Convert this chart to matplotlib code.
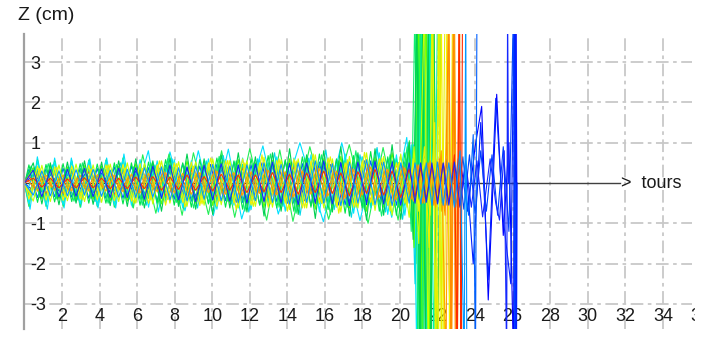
import matplotlib
matplotlib.use("Agg")
import matplotlib.pyplot as plt
from matplotlib.transforms import Bbox

plt.rcParams['font.family'] = ['Liberation Sans', 'DejaVu Sans']

# Turn numbers of the sampled crests (four interleaved phases)
crest_turns_a = [0, 0.24, 0.70, 1.15, 1.61, 2.06, 2.52, 2.97, 3.43, 3.88, 4.34, 4.79,
                 5.25, 5.70, 6.16, 6.61, 7.07, 7.52, 7.98, 8.43, 8.89, 9.34, 9.80,
                 10.25, 10.71, 11.16, 11.62, 12.07, 12.53, 12.98, 13.44, 13.89, 14.35,
                 14.80, 15.26, 15.71, 16.17, 16.62, 17.08, 17.53, 17.99, 18.44, 18.90,
                 19.35, 19.81, 20.26, 20.72]
crest_turns_b = [0, 0.47, 0.93, 1.38, 1.84, 2.29, 2.75, 3.20, 3.66, 4.11, 4.57, 5.02,
                 5.48, 5.93, 6.39, 6.84, 7.30, 7.75, 8.21, 8.66, 9.12, 9.57, 10.03,
                 10.48, 10.94, 11.39, 11.85, 12.30, 12.76, 13.21, 13.67, 14.12, 14.58,
                 15.03, 15.49, 15.94, 16.40, 16.85, 17.31, 17.76, 18.22, 18.67, 19.13,
                 19.58, 20.04, 20.49]
crest_turns_c = [0, 0.36, 0.82, 1.27, 1.73, 2.18, 2.64, 3.09, 3.55, 4.00, 4.46, 4.91,
                 5.37, 5.82, 6.28, 6.73, 7.19, 7.64, 8.10, 8.55, 9.01, 9.46, 9.92,
                 10.37, 10.83, 11.28, 11.74, 12.19, 12.65, 13.10, 13.56, 14.01, 14.47,
                 14.92, 15.38, 15.83, 16.29, 16.74, 17.20, 17.65, 18.11, 18.56, 19.02,
                 19.47, 19.93, 20.38]
crest_turns_d = [0, 0.12, 0.58, 1.03, 1.49, 1.94, 2.40, 2.85, 3.31, 3.76, 4.22, 4.67,
                 5.13, 5.58, 6.04, 6.49, 6.95, 7.40, 7.86, 8.31, 8.77, 9.22, 9.68,
                 10.13, 10.59, 11.04, 11.50, 11.95, 12.41, 12.86, 13.32, 13.77, 14.23,
                 14.68, 15.14, 15.59, 16.05, 16.50, 16.96, 17.41, 17.87, 18.32, 18.78,
                 19.23, 19.69, 20.14, 20.60]

# Large-amplitude particles (own crest positions)
outer_a_turns = [0, 0.30, 0.69, 1.22, 1.61, 2.11, 2.50, 3.00, 3.48, 3.92, 4.38, 4.86, 5.30,
                 5.75, 6.60, 7.13, 7.75, 8.55, 9.26, 10.06, 10.86, 11.57, 12.70, 13.52,
                 14.67, 15.92, 16.90, 17.87, 18.76, 19.56, 20.36,
                 20.75, 20.95, 21.08, 21.22, 21.36]
outer_a_z = [0, -0.65, 0.65, -0.65, 0.62, -0.62, 0.62, -0.60, 0.60, -0.62, 0.62, -0.62, 0.72,
             -0.60, 0.80, -0.72, 0.77, -0.69, 0.80, -0.81, 0.84, -0.89, 0.92, -0.77,
             1.00, -0.96, 1.00, -0.93, 0.84, -0.85, 1.13,
             -1.0, 4.5, -4.5, 4.5, -4.5]
outer_b_turns = [0, 0.24, 0.70, 1.15, 1.61, 2.06, 2.52, 2.97, 3.43, 3.88, 4.34, 4.79, 5.25,
                 5.80, 6.30, 7.00, 7.70, 8.40, 9.00, 9.80, 10.50, 11.20, 12.00, 12.90,
                 13.60, 14.30, 15.20, 16.20, 17.30, 18.30, 19.10, 19.90, 20.50,
                 20.85, 21.05, 21.20, 21.35, 21.48, 21.60]
outer_b_z = [0, -0.58, 0.57, -0.58, 0.55, -0.58, 0.55, -0.60, 0.57, -0.58, 0.57, -0.60, 0.62,
             -0.62, 0.70, -0.75, 0.72, -0.80, 0.75, -0.78, 0.80, -0.85, 0.85, -0.92,
             0.82, -0.95, 0.90, -0.90, 0.95, -1.00, 0.88, -0.92, 1.05,
             -2.0, 4.5, -4.5, 4.5, -4.5, 4.5]

# Crest values of the core particles, followed by (turn, z) points after turn 20.5
core_c = [0.05, -0.52, 0.55, -0.55, 0.52, -0.54, 0.55, -0.52, 0.55, -0.56, 0.55, -0.55, 0.60,
          -0.55, 0.58, -0.60, 0.55, -0.50, 0.58, -0.62, 0.55, -0.50, 0.60, -0.65, 0.58, -0.55,
          0.62, -0.66, 0.60, -0.55, 0.65,
          -0.70, 0.62, -0.60, 0.70, -0.72, 0.62, -0.60, 0.72, -0.75, 0.65, -0.62, 0.75, -0.78,
          0.70, -0.80, 0.95]
tail_c = [(20.90, -4.5), (21.05, 4.5), (21.18, -4.5), (21.30, 4.5)]

core_d = [-0.05, 0.45, -0.48, 0.46, -0.47, 0.48, -0.46, 0.48, -0.50, 0.47, -0.50, 0.50, -0.52,
          0.50, -0.55, 0.52, -0.50, 0.58, -0.55, 0.50, -0.60, 0.58, -0.52, 0.62, -0.60, 0.55,
          -0.65, 0.60, -0.55, 0.68, -0.62,
          0.58, -0.70, 0.65, -0.60, 0.72, -0.66, 0.60, -0.75, 0.68, -0.62, 0.78, -0.70, 0.65,
          -0.80, 0.75, -0.90]
tail_d = [(20.95, 4.5), (21.10, -4.5), (21.25, 4.5), (21.40, -4.5), (21.55, 4.5), (21.70, -4.5)]

core_e = [0.0, 0.38, -0.40, 0.42, -0.40, 0.40, -0.42, 0.43, -0.40, 0.42, -0.44, 0.42, -0.45,
          0.48, -0.45, 0.50, -0.52, 0.46, -0.50, 0.55, -0.50, 0.48, -0.56, 0.52, -0.50, 0.58,
          -0.55, 0.50, -0.60, 0.56,
          -0.52, 0.60, -0.58, 0.55, -0.65, 0.60, -0.55, 0.66, -0.62, 0.58, -0.70, 0.64, -0.60,
          0.75, -0.70, 0.85]
tail_e = [(20.75, -1.6), (21.0, 4.5), (21.2, -4.5), (21.4, 4.5), (21.6, -4.5), (21.8, 4.5),
          (21.95, -4.5)]

core_f = [0.0, -0.32, 0.35, -0.34, 0.33, -0.35, 0.34, -0.33, 0.36, -0.35, 0.34, -0.36, 0.38,
          -0.36, 0.40, -0.38, 0.36, -0.42, 0.40, -0.38, 0.44, -0.40, 0.38, -0.45, 0.42, -0.40,
          0.46, -0.44, 0.40, -0.48, 0.45,
          -0.42, 0.50, -0.46, 0.44, -0.52, 0.48, -0.45, 0.55, -0.50, 0.46, -0.56, 0.52, -0.50,
          0.60, -0.55, 0.62]
tail_f = [(20.95, -1.2), (21.2, 4.5), (21.4, -4.5), (21.6, 4.5), (21.8, -4.5), (22.0, 4.5)]

core_p = [0.0, 0.50, -0.52, 0.50, -0.54, 0.52, -0.50, 0.55, -0.53, 0.52, -0.56, 0.55, -0.58,
          0.60, -0.62, 0.55, -0.70, 0.62, -0.58, 0.72, -0.65, 0.60, -0.78, 0.70, -0.62, 0.75,
          -0.72, 0.65, -0.82, 0.75,
          -0.70, 0.85, -0.78, 0.70, -0.88, 0.80, -0.72, 0.90, -0.82, 0.75, -0.92, 0.85, -0.80,
          0.95, -0.90, 1.00]
tail_p = [(20.7, -1.4), (20.9, 4.5), (21.05, -4.5), (21.2, 4.5), (21.35, -4.5), (21.5, 4.5),
          (21.65, -4.5), (21.8, 4.5), (22.0, -4.5), (22.2, 4.5)]

core_s = [0.0, 0.42, -0.35, 0.48, -0.40, 0.30, -0.45, 0.50, -0.38, 0.33, -0.50, 0.46, -0.36,
          0.40, -0.55, 0.50, -0.35, 0.60, -0.48, 0.42, -0.62, 0.38, -0.50, 0.66, -0.45, 0.55,
          -0.70, 0.48, -0.40, 0.72, -0.60, 0.45, -0.75, 0.62, -0.50, 0.70, -0.78, 0.55, -0.60,
          0.80, -0.65, 0.50, -0.82, 0.70, -0.60, 0.90]
tail_s = [(20.6, -1.2), (20.8, 4.5), (20.95, -4.5), (21.1, 4.5), (21.25, -4.5)]

core_t = [0.0, -0.25, 0.40, -0.30, 0.45, -0.28, 0.38, -0.42, 0.30, -0.46, 0.36, -0.30, 0.50,
          -0.40, 0.32, -0.55, 0.45, -0.38, 0.60, -0.50, 0.35, -0.62, 0.55, -0.40, 0.68, -0.52,
          0.45, -0.72, 0.60, -0.42, 0.75, -0.58, 0.50, -0.80, 0.62, -0.45, 0.82, -0.66, 0.55,
          -0.85, 0.70, -0.50, 0.88, -0.72, 0.60, -0.90, 0.95]
tail_t = [(20.8, -2.5), (21.0, 4.5), (21.12, -4.5), (21.26, 4.5), (21.45, -4.5), (21.6, 4.5)]

core_h = [0.0, -0.45, 0.44, -0.46, 0.45, -0.44, 0.47, -0.46, 0.45, -0.48, 0.47, -0.46, 0.50,
          -0.50, 0.48, -0.52, 0.55, -0.50, 0.53, -0.58, 0.52, -0.55, 0.60, -0.54, 0.56, -0.62,
          0.55, -0.58, 0.64, -0.60,
          0.58, -0.66, 0.60, -0.62, 0.70, -0.62, 0.60, -0.72, 0.66, -0.62, 0.75, -0.68, 0.66,
          -0.80, 0.72, -0.85]
tail_h = [(20.75, 0.9), (21.0, -1.5), (21.3, 4.5), (21.5, -4.5), (21.7, 4.5), (21.9, -4.5),
          (22.1, 4.5), (22.25, -4.5)]

core_u = [0.0, -0.30, 0.36, -0.25, 0.40, -0.35, 0.28, -0.42, 0.35, -0.30, 0.45, -0.32, 0.38,
          -0.50, 0.36, -0.42, 0.55, -0.40, 0.48, -0.60, 0.42, -0.52, 0.62, -0.45, 0.56, -0.66,
          0.50, -0.58, 0.70, -0.52, 0.60, -0.70, 0.55, -0.62, 0.72, -0.50, 0.65, -0.75, 0.58,
          -0.60, 0.76, -0.55, 0.62, -0.70, 0.50, -0.60]
tail_u = [(20.7, 0.6), (21.0, -0.7), (21.3, 0.9), (21.55, -1.6), (21.75, 4.5), (21.9, -4.5),
          (22.05, 4.5), (22.2, -4.5), (22.4, 4.5)]

core_g = [0.05, -0.40, 0.42, -0.42, 0.40, -0.43, 0.42, -0.40, 0.44, -0.42, 0.45, -0.44, 0.46,
          -0.45, 0.48, -0.50, 0.45, -0.55, 0.50, -0.48, 0.52, -0.56, 0.50, -0.58, 0.55, -0.50,
          0.60, -0.55, 0.50, -0.60, 0.56,
          -0.50, 0.60, -0.62, 0.55, -0.50, 0.62, -0.58, 0.50, -0.60, 0.55, -0.48, 0.60, -0.55,
          0.50, -0.50, 0.45]
tail_g = [(21.0, -0.55), (21.3, 0.6), (21.6, -0.8), (21.85, 1.5), (22.05, -4.5), (22.2, 4.5),
          (22.35, -4.5), (22.5, 4.5), (22.65, -4.5), (22.8, 4.5)]

core_i = [0.0, 0.18, -0.20, 0.20, -0.18, 0.20, -0.20, 0.19, -0.20, 0.21, -0.20, 0.20, -0.22,
          0.22, -0.25, 0.24, -0.22, 0.26, -0.25, 0.24, -0.28, 0.26, -0.24, 0.30, -0.28, 0.26,
          -0.30, 0.28, -0.26, 0.32, -0.30,
          0.28, -0.34, 0.30, -0.28, 0.36, -0.32, 0.30, -0.38, 0.34, -0.30, 0.40, -0.36, 0.34,
          -0.42, 0.38, -0.45]
tail_i = [(21.0, 0.45), (21.3, -0.5), (21.6, 0.55), (21.9, -0.6), (22.2, 0.8), (22.45, -4.5),
          (22.6, 4.5), (22.75, -4.5), (22.9, 4.5), (23.05, -4.5), (23.2, 4.5)]

core_v = [0.0, 0.10, -0.15, 0.18, -0.12, 0.16, -0.20, 0.14, -0.18, 0.20, -0.15, 0.22, -0.20,
          0.18, -0.25, 0.22, -0.20, 0.28, -0.24, 0.20, -0.30, 0.28, -0.22, 0.32, -0.30, 0.25,
          -0.35, 0.30, -0.28, 0.36, -0.32, 0.30, -0.38, 0.35, -0.30, 0.40, -0.36, 0.32, -0.42,
          0.38, -0.35, 0.45, -0.40, 0.36, -0.45, 0.42, -0.40]
tail_v = [(20.9, 0.45), (21.2, -0.5), (21.5, 0.5), (21.8, -0.55), (22.1, 0.6), (22.4, -0.8),
          (22.6, 4.5), (22.72, -4.5), (22.85, 4.5), (22.95, -4.5)]

core_k = [0.0, -0.26, 0.28, -0.27, 0.28, -0.28, 0.27, -0.28, 0.30, -0.28, 0.30, -0.30, 0.30,
          -0.32, 0.30, -0.34, 0.35, -0.32, 0.36, -0.38, 0.34, -0.36, 0.40, -0.36, 0.38, -0.42,
          0.38, -0.40, 0.44, -0.40, 0.42,
          -0.45, 0.42, -0.44, 0.48, -0.44, 0.46, -0.50, 0.45, -0.48, 0.52, -0.46, 0.50, -0.55,
          0.50, -0.52, 0.50]
tail_k = [(21.0, -0.5), (21.3, 0.5), (21.6, -0.55), (21.9, 0.6), (22.2, -0.7), (22.5, 1.0),
          (22.7, -4.5), (22.85, 4.5), (23.0, -4.5), (23.15, 4.5), (23.3, -4.5)]

core_j = [0.0, 0.12, -0.10, 0.12, -0.12, 0.10, -0.12, 0.13, -0.12, 0.12, -0.14, 0.12, -0.14,
          0.15, -0.14, 0.16, -0.18, 0.15, -0.16, 0.20, -0.18, 0.16, -0.20, 0.22, -0.18, 0.20,
          -0.24, 0.20, -0.22, 0.26,
          -0.24, 0.22, -0.28, 0.25, -0.24, 0.30, -0.26, 0.25, -0.32, 0.28, -0.26, 0.34, -0.30,
          0.30, -0.36, 0.35]
tail_j = [(20.8, -0.35), (21.1, 0.38), (21.4, -0.4), (21.7, 0.42), (22.0, -0.45), (22.3, 0.48),
          (22.6, -0.5), (22.9, 0.7), (23.05, -4.5), (23.15, 4.5), (23.25, -4.5), (23.33, 4.5)]

core_o = [0.0, -0.30, 0.30, -0.32, 0.30, -0.32, 0.33, -0.30, 0.34, -0.33, 0.32, -0.35, 0.34,
          -0.36, 0.38, -0.35, 0.40, -0.42, 0.38, -0.44, 0.42, -0.40, 0.46, -0.44, 0.42, -0.48,
          0.45, -0.44, 0.50, -0.48,
          0.46, -0.52, 0.50, -0.48, 0.55, -0.50, 0.48, -0.56, 0.52, -0.50, 0.58, -0.54, 0.52,
          -0.56, 0.50, -0.50]
tail_o = [(20.8, 0.5), (21.1, -0.52), (21.4, 0.5), (21.7, -0.55), (22.0, 0.52), (22.3, -0.55),
          (22.6, 0.5), (22.9, -0.6), (23.2, 0.8), (23.42, -4.5), (23.5, 4.5), (23.56, -4.5)]

core_n = [0.0, 0.34, -0.36, 0.35, -0.34, 0.36, -0.35, 0.36, -0.38, 0.36, -0.38, 0.40, -0.38,
          0.42, -0.40, 0.38, -0.45, 0.44, -0.40, 0.48, -0.45, 0.42, -0.50, 0.46, -0.44, 0.52,
          -0.48, 0.45, -0.54, 0.50, -0.46,
          0.55, -0.50, 0.48, -0.56, 0.52, -0.50, 0.58, -0.54, 0.50, -0.58, 0.55, -0.52, 0.60,
          -0.55, 0.52, -0.55]
tail_n = [(20.95, 0.5), (21.25, -0.5), (21.55, 0.52), (21.85, -0.5), (22.15, 0.55),
          (22.45, -0.55), (22.75, 0.5), (23.05, -0.6), (23.35, 0.65), (23.65, -0.8),
          (23.9, 1.2), (24.02, -4.5), (24.1, 4.5)]

core_r = [0.0, 0.32, -0.34, 0.33, -0.35, 0.34, -0.33, 0.36, -0.34, 0.35, -0.36, 0.37, -0.36,
          0.38, -0.40, 0.42, -0.38, 0.44, -0.42, 0.40, -0.46, 0.44, -0.42, 0.48, -0.45, 0.44,
          -0.50, 0.47, -0.45, 0.52,
          -0.50, 0.48, -0.54, 0.50, -0.48, 0.55, -0.52, 0.50, -0.56, 0.52, -0.50, 0.55, -0.52,
          0.50, -0.55, 0.50]
tail_r = [(20.8, -0.5), (21.1, 0.5), (21.4, -0.48), (21.7, 0.5), (22.0, -0.52), (22.3, 0.5),
          (22.6, -0.55), (22.9, 0.52), (23.2, -0.55), (23.5, 0.5), (23.8, -0.6), (24.1, 0.55),
          (24.4, -0.84), (24.8, 0.6), (25.1, -0.5), (25.3, -0.92), (25.55, 0.8),
          (25.68, -4.5), (25.73, 4.5), (25.78, 0.0)]

core_w = [0.0, -0.15, 0.22, -0.18, 0.20, -0.24, 0.16, -0.22, 0.26, -0.20, 0.24, -0.30, 0.26,
          -0.28, 0.34, -0.30, 0.36, -0.40, 0.32, -0.42, 0.40, -0.36, 0.46, -0.42, 0.38, -0.48,
          0.44, -0.40, 0.50, -0.46, 0.42, -0.50, 0.48, -0.44, 0.52, -0.50, 0.46, -0.55, 0.50,
          -0.48, 0.55, -0.50, 0.52, -0.56, 0.50, -0.52]
tail_w = [(20.7, 0.5), (21.0, -0.55), (21.3, 0.5), (21.6, -0.5), (21.9, 0.55), (22.2, -0.5),
          (22.5, 0.6), (22.8, -0.55), (23.1, 0.6), (23.4, -0.65), (23.7, 0.7), (24.0, -0.75),
          (24.3, 0.8), (24.6, -0.7), (24.9, 0.7), (25.2, -0.8), (25.5, 0.9), (25.8, -1.2),
          (26.05, 4.5), (26.1, -4.5), (26.15, 0.0)]

core_m = [0.0, 0.20, -0.22, 0.22, -0.20, 0.22, -0.24, 0.22, -0.24, 0.25, -0.24, 0.26, -0.28,
          0.30, -0.28, 0.34, -0.32, 0.30, -0.36, 0.38, -0.34, 0.40, -0.42, 0.36, -0.44, 0.45,
          -0.40, 0.46, -0.48, 0.44,
          -0.46, 0.50, -0.45, 0.48, -0.52, 0.46, -0.50, 0.52, -0.48, 0.50, -0.54, 0.48, -0.50,
          0.55, -0.50, 0.48]
tail_m = [(20.75, -0.45), (21.05, 0.5), (21.35, -0.5), (21.65, 0.48), (21.95, -0.5),
          (22.25, 0.52), (22.55, -0.55), (22.85, 0.5), (23.15, -0.6), (23.5, 0.55),
          (23.9, -2.0), (24.3, 1.5), (24.7, -2.4), (25.1, 2.1), (25.5, -0.9), (25.9, -2.5),
          (26.08, 4.5), (26.12, -4.5), (26.16, 4.5), (26.2, -4.5), (26.24, 0.0)]

core_l = [0.0, -0.28, 0.30, -0.30, 0.28, -0.30, 0.30, -0.28, 0.30, -0.30, 0.32, -0.30, 0.32,
          -0.34, 0.36, -0.32, 0.38, -0.40, 0.36, -0.34, 0.42, -0.40, 0.36, -0.44, 0.42, -0.38,
          0.46, -0.44, 0.40, -0.48, 0.45,
          -0.42, 0.48, -0.46, 0.44, -0.50, 0.46, -0.44, 0.50, -0.48, 0.45, -0.52, 0.48, -0.46,
          0.50, -0.48, 0.45]
tail_l = [(20.95, -0.45), (21.25, 0.48), (21.55, -0.5), (21.85, 0.45), (22.15, -0.5),
          (22.45, 0.52), (22.8, -0.5), (23.2, 0.6), (23.6, -0.7), (24.0, 0.9), (24.35, 1.9),
          (24.7, -2.9), (25.15, 2.2), (25.5, -1.3), (25.8, 1.0), (26.05, -4.5), (26.1, 4.5),
          (26.14, -4.5), (26.18, 4.5), (26.22, 0.0)]

x_ticks = list(range(2, 35, 2))
y_ticks = [-3, -2, -1, 1, 2, 3]


def build(grid, core, tail):
    n = min(len(grid), len(core))
    xs = list(grid[:n]) + [p[0] for p in tail]
    zs = list(core[:n]) + [p[1] for p in tail]
    return xs, zs


# drawing order: most blues and the wide orange underneath, then greens, yellows,
# the small orange/red ones, and a few blues on top
traces = [
    (*build(crest_turns_a, core_l, tail_l), '#0000ff'),
    (*build(crest_turns_b, core_m, tail_m), '#0020ff'),
    (*build(crest_turns_c, core_w, tail_w), '#0040ff'),
    (*build(crest_turns_a, core_n, tail_n), '#0060ff'),
    (*build(crest_turns_a, core_k, tail_k), '#ff6a00'),
    (outer_a_turns, outer_a_z, '#00e0ff'),
    (outer_b_turns, outer_b_z, '#22ee55'),
    (*build(crest_turns_a, core_c, tail_c), '#00e8ff'),
    (*build(crest_turns_d, core_t, tail_t), '#00d8e8'),
    (*build(crest_turns_a, core_d, tail_d), '#00e64a'),
    (*build(crest_turns_b, core_e, tail_e), '#5cff00'),
    (*build(crest_turns_c, core_s, tail_s), '#10f070'),
    (*build(crest_turns_a, core_f, tail_f), '#00f5b0'),
    (*build(crest_turns_b, core_p, tail_p), '#00d050'),
    (*build(crest_turns_b, core_h, tail_h), '#c8ff00'),
    (*build(crest_turns_c, core_u, tail_u), '#e8f000'),
    (*build(crest_turns_a, core_g, tail_g), '#f2f200'),
    (*build(crest_turns_a, core_i, tail_i), '#ffa000'),
    (*build(crest_turns_d, core_v, tail_v), '#ff8c00'),
    (*build(crest_turns_b, core_j, tail_j), '#ff2a00'),
    (*build(crest_turns_b, core_r, tail_r), '#1428ff'),
    (*build(crest_turns_b, core_o, tail_o), '#0098ff'),
]

fig = plt.figure(figsize=(7.12, 3.40), dpi=100)
ax = fig.add_axes([24.4 / 712, 11 / 340, (692 - 24.4) / 712, 295 / 340])
ax.set_xlim(0, 35.55)
ax.set_ylim(-3.62, 3.695)

grid_style = dict(color='#c8c8c8', linewidth=1.3, linestyle=(0, (7, 2.5, 2, 2.5)))
ax.set_xticks(x_ticks)
ax.set_xticklabels([str(t) for t in x_ticks])
ax.set_yticks(y_ticks)
ax.set_yticklabels([str(t) for t in y_ticks], ha='left')
ax.grid(True, **grid_style)
ax.tick_params(axis='x', length=0, pad=-15, labelsize=13, labelcolor='#1a1a1a')
ax.tick_params(axis='y', length=0, pad=-4.3, labelsize=13, labelcolor='#1a1a1a')

for side in ('top', 'right', 'bottom'):
    ax.spines[side].set_visible(False)
ax.spines['left'].set_color('#a0a0a0')
ax.spines['left'].set_linewidth(1.6)

# horizontal turn axis with its label
ax.plot([0, 31.7], [0, 0], color='#404040', linewidth=1.0, zorder=1.8)
ax.text(31.75, 0, '>  tours', fontsize=13, va='center', ha='left', color='#1a1a1a')

for xs, zs, color in traces:
    ax.plot(xs, zs, color=color, linewidth=0.8, zorder=2)

# last tick label, cut at the right edge of the plotting window
lab36 = ax.text(36, 15 * 100 / 72 / 295, '36', fontsize=13, ha='center', va='top',
                color='#1a1a1a', transform=ax.get_xaxis_transform())
lab36.set_clip_on(True)
lab36.set_clip_box(Bbox.from_extents(0, 0, 695, 340))

fig.text(18 / 712, 1 - 16 / 340, 'Z (cm)', fontsize=14, ha='left', va='center',
         color='#1a1a1a')

fig.savefig('out.png', dpi=100)
